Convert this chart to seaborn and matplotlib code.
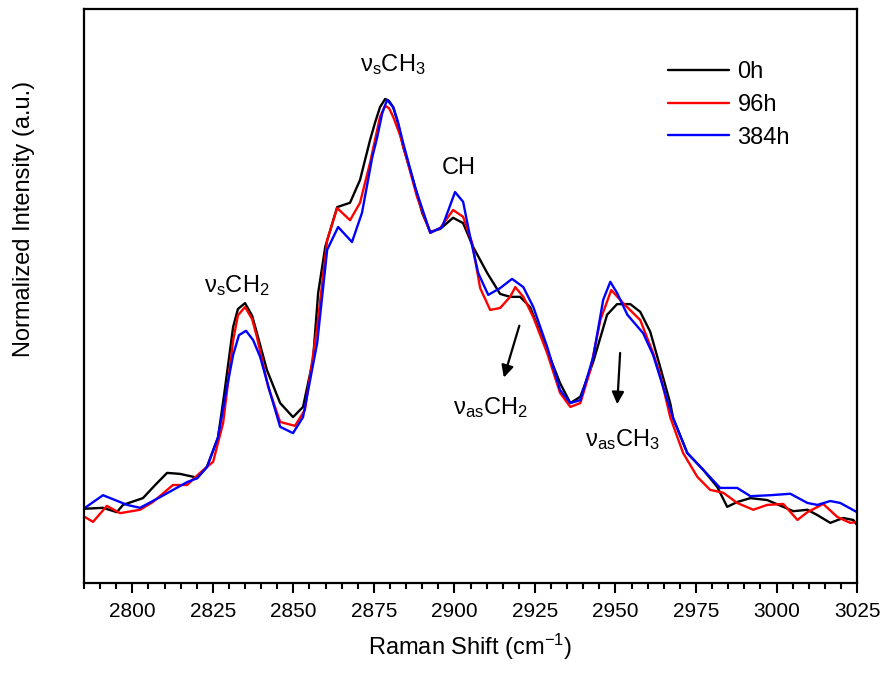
import matplotlib
matplotlib.use("Agg")
import matplotlib.pyplot as plt
from matplotlib.ticker import MultipleLocator
import pandas as pd
import seaborn as sns

# Raman shift (cm-1) and normalized intensity
shift_0h = [2785.0, 2790.9, 2795.2, 2797.1, 2803.3, 2807.1, 2810.8, 2814.8, 2818.9, 2820.1,
            2823.2, 2826.6, 2828.5, 2831.3, 2832.8, 2835.0, 2837.2, 2838.7, 2841.8, 2845.9,
            2849.9, 2853.0, 2856.1, 2857.7, 2859.9, 2863.6, 2867.6, 2870.7, 2873.8, 2875.4,
            2876.9, 2878.5, 2879.7, 2881.0, 2882.2, 2884.1, 2887.2, 2890.0, 2892.5, 2895.6,
            2899.6, 2902.7, 2905.8, 2910.2, 2914.2, 2917.3, 2920.4, 2923.5, 2928.8, 2932.8,
            2936.0, 2939.1, 2943.1, 2947.4, 2950.5, 2954.6, 2957.7, 2960.8, 2963.9, 2967.0,
            2967.9, 2972.3, 2977.3, 2981.6, 2984.7, 2987.8, 2991.9, 2997.1, 3002.1, 3005.2,
            3009.6, 3012.7, 3016.7, 3020.7, 3023.8, 3025.0]
int_0h = [0.153, 0.155, 0.146, 0.161, 0.175, 0.202, 0.227, 0.225, 0.219, 0.216,
          0.240, 0.300, 0.388, 0.528, 0.565, 0.577, 0.551, 0.515, 0.439, 0.371,
          0.342, 0.363, 0.460, 0.598, 0.693, 0.775, 0.784, 0.831, 0.913, 0.950,
          0.981, 0.998, 0.994, 0.981, 0.955, 0.899, 0.831, 0.763, 0.724, 0.730,
          0.753, 0.742, 0.693, 0.639, 0.596, 0.590, 0.590, 0.569, 0.480, 0.412,
          0.371, 0.384, 0.456, 0.553, 0.575, 0.575, 0.559, 0.518, 0.445, 0.371,
          0.340, 0.268, 0.233, 0.198, 0.157, 0.167, 0.175, 0.171, 0.157, 0.148,
          0.151, 0.140, 0.124, 0.134, 0.130, 0.120]

shift_96h = [2785.3, 2787.8, 2792.1, 2796.2, 2802.4, 2806.4, 2812.6, 2817.0, 2821.0, 2825.1,
             2828.2, 2831.3, 2832.8, 2835.0, 2837.2, 2838.7, 2842.2, 2845.9, 2850.5, 2853.6,
             2857.4, 2860.5, 2863.6, 2867.6, 2870.7, 2873.8, 2875.4, 2876.9, 2878.5, 2879.7,
             2881.0, 2883.1, 2885.3, 2888.4, 2892.5, 2895.6, 2899.6, 2902.7, 2905.5, 2908.0,
             2911.1, 2914.2, 2917.3, 2918.9, 2921.4, 2924.5, 2928.8, 2932.8, 2936.0, 2939.1,
             2942.2, 2945.3, 2948.7, 2952.4, 2957.7, 2961.7, 2963.9, 2967.0, 2971.0, 2975.4,
             2979.4, 2983.5, 2987.8, 2992.8, 2997.1, 3002.1, 3006.5, 3009.6, 3014.5, 3018.9,
             3022.9, 3025.0]
int_96h = [0.136, 0.126, 0.159, 0.144, 0.151, 0.167, 0.202, 0.202, 0.227, 0.250,
           0.330, 0.500, 0.552, 0.569, 0.544, 0.507, 0.404, 0.332, 0.324, 0.357,
           0.528, 0.707, 0.773, 0.748, 0.784, 0.866, 0.915, 0.961, 0.984, 0.979,
           0.961, 0.924, 0.872, 0.796, 0.722, 0.732, 0.769, 0.755, 0.701, 0.608,
           0.563, 0.567, 0.590, 0.610, 0.590, 0.548, 0.474, 0.392, 0.363, 0.371,
           0.439, 0.542, 0.604, 0.577, 0.542, 0.474, 0.429, 0.342, 0.268, 0.219,
           0.192, 0.186, 0.165, 0.151, 0.161, 0.163, 0.130, 0.146, 0.163, 0.136,
           0.124, 0.126]

shift_384h = [2785.3, 2790.9, 2798.4, 2802.4, 2808.6, 2817.0, 2820.1, 2823.2, 2826.6, 2829.4,
              2831.3, 2833.1, 2835.3, 2837.5, 2839.7, 2842.8, 2845.9, 2849.9, 2853.0, 2857.4,
              2860.5, 2863.9, 2868.2, 2871.3, 2874.5, 2876.0, 2877.6, 2879.1, 2881.0, 2882.5,
              2884.1, 2887.8, 2892.5, 2896.2, 2900.2, 2902.7, 2904.9, 2907.4, 2910.5, 2914.2,
              2917.9, 2921.4, 2924.5, 2928.8, 2932.8, 2936.0, 2939.1, 2943.1, 2946.2, 2948.4,
              2950.5, 2953.7, 2958.6, 2961.7, 2964.8, 2967.9, 2972.3, 2977.3, 2982.5, 2987.8,
              2991.9, 2998.1, 3004.3, 3009.6, 3012.7, 3016.7, 3019.8, 3025.0]
int_384h = [0.155, 0.181, 0.161, 0.155, 0.177, 0.208, 0.216, 0.239, 0.300, 0.404,
            0.470, 0.511, 0.520, 0.501, 0.466, 0.392, 0.322, 0.309, 0.342, 0.495,
            0.687, 0.734, 0.703, 0.763, 0.878, 0.918, 0.969, 0.996, 0.981, 0.950,
            0.907, 0.816, 0.722, 0.734, 0.806, 0.786, 0.713, 0.639, 0.594, 0.608,
            0.627, 0.610, 0.569, 0.487, 0.398, 0.371, 0.377, 0.466, 0.584, 0.621,
            0.598, 0.553, 0.515, 0.470, 0.404, 0.340, 0.268, 0.233, 0.196, 0.196,
            0.179, 0.181, 0.184, 0.165, 0.161, 0.169, 0.165, 0.146]

series = ["0h", "96h", "384h"]
colors = ["black", "#ff0000", "#0000ff"]

df = pd.concat([
    pd.DataFrame({"shift": shift_0h, "intensity": int_0h, "time": "0h"}),
    pd.DataFrame({"shift": shift_96h, "intensity": int_96h, "time": "96h"}),
    pd.DataFrame({"shift": shift_384h, "intensity": int_384h, "time": "384h"}),
])

sns.set_style("ticks")
plt.rcParams["font.family"] = ["Liberation Sans", "DejaVu Sans"]
plt.rcParams["mathtext.fontset"] = "custom"
plt.rcParams["mathtext.rm"] = "Liberation Sans"
plt.rcParams["mathtext.it"] = "Liberation Sans:italic"
plt.rcParams["text.color"] = "black"
plt.rcParams["axes.labelcolor"] = "black"
plt.rcParams["xtick.color"] = "black"
plt.rcParams["lines.solid_joinstyle"] = "round"

fig = plt.figure(figsize=(8.86, 6.75), dpi=100)
ax = fig.add_axes([0.0948, 0.1363, 0.8725, 0.8504])

sns.lineplot(data=df, x="shift", y="intensity", hue="time", hue_order=series,
             palette=colors, estimator=None, sort=False, linewidth=1.7, ax=ax)

ax.set_xlim(2785, 3025)
ax.set_ylim(0, 1.1835)
ax.xaxis.set_major_locator(MultipleLocator(25))
ax.xaxis.set_minor_locator(MultipleLocator(5))
ax.set_yticks([])
ax.tick_params(axis="x", which="major", direction="out", length=7.5, width=1.5,
               labelsize=15, pad=6, colors="black")
ax.tick_params(axis="x", which="minor", direction="out", length=4.5, width=1.5)
for sp in ax.spines.values():
    sp.set_visible(True)
    sp.set_linewidth(1.6)
    sp.set_color("black")

ax.set_xlabel(r"Raman Shift (cm$^{-1}$)", fontsize=17, labelpad=8)
ax.set_ylabel("Normalized Intensity (a.u.)", fontsize=17)
ax.yaxis.set_label_coords(-0.063, 0.634)

leg = ax.legend(loc="upper left", bbox_to_anchor=(0.743, 0.925), borderaxespad=0,
                frameon=False, fontsize=17, handlelength=2.6, handletextpad=0.35,
                labelspacing=0.45)
for line in leg.get_lines():
    line.set_linewidth(1.7)

# peak assignments
tfs = 17
ax.text(2832.5, 0.614, r"ν$_{\rm s}$CH$_2$", fontsize=tfs, ha="center", va="center")
ax.text(2881.0, 1.068, r"ν$_{\rm s}$CH$_3$", fontsize=tfs, ha="center", va="center")
ax.text(2901.5, 0.856, "CH", fontsize=tfs, ha="center", va="center")
ax.text(2911.1, 0.361, r"ν$_{\rm as}$CH$_2$", fontsize=tfs, ha="center", va="center")
ax.text(2952.1, 0.295, r"ν$_{\rm as}$CH$_3$", fontsize=tfs, ha="center", va="center")
arrow = dict(arrowstyle="-|>", color="black", lw=1.6, mutation_scale=18)
ax.annotate("", xy=(2915.1, 0.418), xytext=(2920.4, 0.536), arrowprops=arrow)
ax.annotate("", xy=(2950.5, 0.363), xytext=(2951.5, 0.480), arrowprops=arrow)

fig.savefig("out.png", dpi=100)
